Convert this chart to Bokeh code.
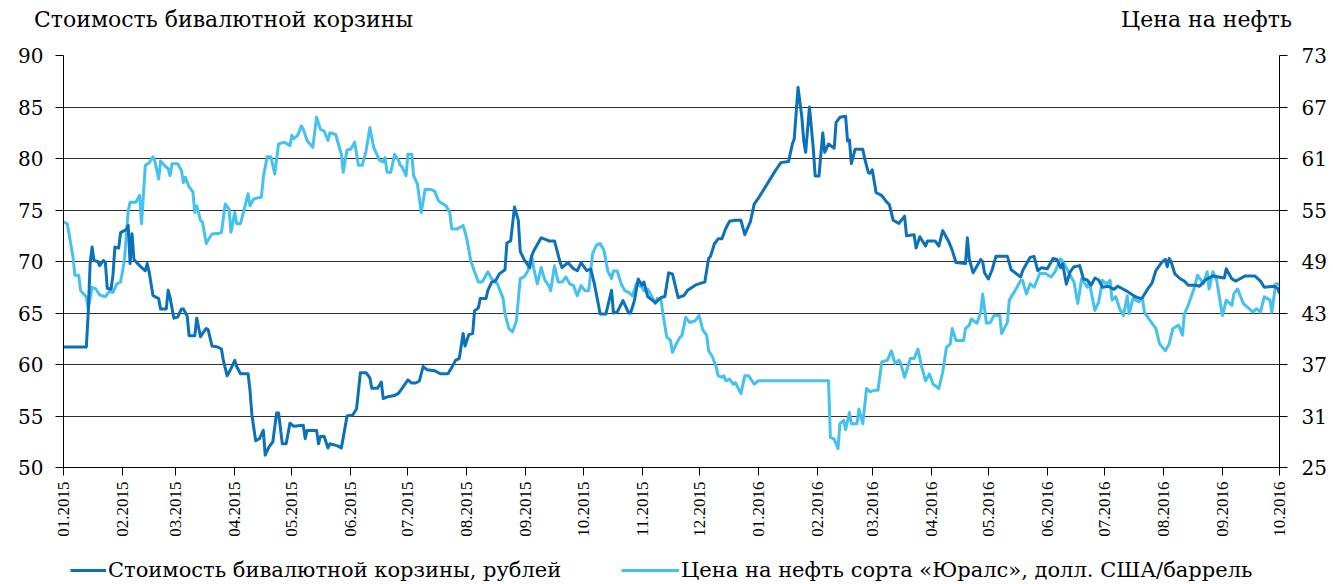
import math
import pandas as pd
from bokeh.plotting import figure
from bokeh.layouts import column
from bokeh.models import (Range1d, LinearAxis, FixedTicker, DatetimeTickFormatter,
                          Legend, LegendItem)
from bokeh.embed import file_html
from bokeh.resources import INLINE

# ---------------- data ----------------
START = "2015-01-01"
END = "2016-10-01"

month_ticks = ["2015-01-01", "2015-02-01", "2015-03-01", "2015-04-01", "2015-05-01",
               "2015-06-01", "2015-07-01", "2015-08-01", "2015-09-01", "2015-10-01",
               "2015-11-01", "2015-12-01", "2016-01-01", "2016-02-01", "2016-03-01",
               "2016-04-01", "2016-05-01", "2016-06-01", "2016-07-01", "2016-08-01",
               "2016-09-01", "2016-10-01"]
left_ticks = [50, 55, 60, 65, 70, 75, 80, 85, 90]
right_ticks = [25, 31, 37, 43, 49, 55, 61, 67, 73]

# days since 2015-01-01
basket_day = [0, 12, 13, 14, 15, 16, 18, 19, 21, 22, 23, 25, 26, 27, 29, 30, 32, 33, 34, 35, 36, 37,
              40, 43, 44, 45, 47, 50, 51, 54, 55, 56, 58, 60, 62, 63, 65, 66, 69, 70, 72, 73, 75, 76,
              78, 81, 83, 84, 86, 88, 90, 91, 93, 97, 98, 99, 101, 103, 105, 106, 108, 110, 112, 113,
              115, 117, 119, 121, 126, 127, 128, 133, 134, 135, 137, 139, 140, 144, 146, 147, 149, 152,
              154, 156, 159, 161, 162, 165, 167, 168, 171, 174, 176, 178, 181, 183, 185, 187, 189, 191,
              195, 198, 202, 204, 206, 208, 210, 211, 213, 215, 216, 218, 219, 222, 223, 225, 227, 229,
              232, 233, 235, 237, 239, 240, 242, 245, 246, 247, 251, 254, 255, 258, 261, 262, 265, 268,
              270, 272, 275, 277, 279, 281, 282, 285, 288, 289, 291, 294, 297, 298, 300, 302, 304, 305,
              307, 311, 314, 316, 318, 320, 323, 326, 328, 332, 335, 337, 339, 340, 342, 344, 346, 348,
              350, 353, 356, 358, 361, 363, 365, 374, 377, 381, 383, 384, 386, 388, 389, 390, 392, 394,
              395, 397, 399, 400, 402, 405, 406, 408, 411, 412, 413, 414, 416, 420, 421, 423, 424, 425,
              427, 430, 432, 434, 436, 439, 442, 443, 447, 448, 450, 453, 454, 458, 460, 462, 465, 467,
              469, 474, 475, 476, 478, 482, 483, 484, 486, 488, 490, 496, 498, 503, 504, 507, 508, 510,
              512, 514, 517, 520, 522, 524, 525, 527, 529, 531, 534, 536, 538, 540, 542, 544, 546, 549,
              552, 554, 556, 559, 563, 566, 567, 570, 572, 574, 577, 579, 580, 581, 582, 584, 587, 589,
              591, 595, 597, 600, 604, 610, 611, 614, 616, 618, 621, 626, 629, 631, 636, 638, 639]
basket_value = [61.7, 61.7, 65.0, 69.8, 71.4, 70.1, 70.0, 69.6, 70.1, 69.9, 67.4, 67.3, 68.7, 71.4, 71.3,
                72.8, 73.0, 73.1, 73.5, 69.8, 72.7, 70.2, 69.6, 69.1, 69.8, 69.0, 66.7, 66.4, 65.4, 65.4,
                67.2, 66.5, 64.5, 64.6, 65.4, 65.4, 64.7, 62.8, 62.8, 64.5, 62.7, 63.0, 63.5, 63.4, 61.8,
                61.7, 61.5, 60.4, 58.9, 59.6, 60.4, 59.8, 59.1, 59.1, 57.5, 55.1, 52.6, 52.8, 53.6, 51.2,
                52.0, 52.5, 55.3, 55.3, 52.3, 52.3, 54.3, 54.0, 54.1, 52.8, 53.6, 53.6, 52.3, 53.0, 53.0,
                51.9, 52.3, 52.1, 51.9, 52.9, 55.0, 55.1, 55.7, 59.2, 59.2, 58.7, 57.7, 57.7, 58.3, 56.7,
                56.9, 57.0, 57.2, 57.7, 58.5, 58.2, 58.2, 58.4, 59.8, 59.5, 59.4, 59.1, 59.1, 59.7, 60.4,
                60.6, 63.0, 61.8, 62.9, 63.0, 65.2, 65.5, 66.4, 66.4, 67.2, 68.0, 68.1, 68.8, 69.2, 71.8,
                72.0, 75.3, 74.0, 71.0, 70.2, 69.4, 70.5, 71.0, 72.3, 72.1, 72.0, 72.0, 69.9, 69.4, 69.9,
                69.3, 69.1, 69.9, 69.1, 69.3, 67.8, 65.9, 64.9, 64.9, 67.2, 65.0, 65.1, 66.2, 65.0, 65.0,
                66.2, 68.3, 67.7, 68.0, 66.6, 66.0, 66.5, 66.6, 68.9, 68.8, 66.5, 66.7, 67.2, 67.7, 67.9,
                68.0, 70.3, 70.5, 71.7, 72.2, 72.2, 73.2, 73.9, 74.0, 74.0, 72.6, 73.9, 75.6, 76.1, 78.8,
                79.6, 79.7, 81.4, 81.9, 86.9, 84.0, 81.7, 80.6, 85.0, 81.0, 78.3, 78.3, 82.5, 80.6, 81.4,
                81.0, 83.5, 84.0, 84.1, 81.7, 81.8, 79.5, 80.9, 80.9, 80.0, 78.6, 78.6, 78.9, 76.7, 76.4,
                75.9, 75.5, 74.0, 73.7, 74.4, 72.5, 72.6, 71.3, 72.4, 71.5, 72.0, 72.0, 71.5, 73.0, 72.0,
                71.1, 69.9, 69.8, 72.3, 70.2, 68.9, 70.2, 70.0, 68.9, 68.3, 69.2, 70.5, 70.5, 69.2, 68.5,
                69.1, 70.1, 70.4, 70.5, 69.1, 69.4, 69.3, 70.3, 70.2, 69.4, 69.8, 67.8, 69.0, 69.5, 69.6,
                68.3, 68.2, 67.7, 68.4, 68.2, 67.5, 67.6, 67.3, 67.6, 67.4, 67.1, 66.6, 66.4, 66.5, 67.4,
                67.9, 69.1, 69.9, 70.2, 69.5, 70.3, 70.0, 68.8, 68.3, 68.1, 67.7, 67.7, 67.6, 68.2, 68.6,
                68.4, 69.3, 68.3, 68.1, 68.3, 68.6, 68.6, 68.1, 67.5, 67.6, 67.4, 66.9]

oil_day = [0, 2, 5, 6, 8, 9, 12, 13, 15, 17, 19, 22, 24, 26, 28, 30, 32, 34, 35, 38, 40, 41, 43, 45,
           47, 48, 50, 51, 53, 55, 56, 57, 60, 62, 63, 64, 66, 68, 69, 70, 72, 73, 75, 76, 78, 82, 83,
           85, 87, 88, 90, 91, 93, 95, 97, 98, 100, 104, 105, 107, 109, 111, 113, 116, 119, 120, 121,
           123, 125, 126, 128, 131, 133, 135, 137, 139, 140, 143, 146, 147, 149, 151, 153, 155, 157,
           159, 161, 163, 166, 168, 169, 170, 172, 174, 176, 177, 178, 180, 181, 183, 184, 186, 188,
           190, 193, 195, 197, 198, 201, 203, 204, 207, 210, 212, 214, 216, 218, 220, 223, 225, 228,
           231, 232, 234, 236, 238, 240, 242, 244, 246, 247, 249, 251, 253, 255, 256, 258, 260, 262,
           264, 266, 268, 270, 272, 274, 276, 278, 280, 282, 284, 286, 288, 289, 291, 293, 295, 297,
           299, 301, 304, 305, 307, 309, 311, 312, 314, 315, 317, 319, 320, 322, 324, 325, 327, 329,
           332, 334, 336, 338, 339, 341, 343, 344, 346, 347, 348, 350, 352, 353, 356, 358, 360, 363,
           365, 402, 403, 405, 407, 408, 410, 411, 413, 414, 417, 418, 420, 422, 424, 426, 428, 430,
           433, 435, 437, 439, 440, 442, 445, 447, 449, 451, 453, 455, 457, 460, 462, 464, 466, 467,
           469, 473, 474, 476, 477, 480, 482, 483, 485, 487, 489, 492, 493, 496, 497, 500, 503, 504,
           506, 508, 510, 513, 516, 519, 521, 524, 526, 529, 531, 533, 535, 538, 539, 542, 544, 546,
           548, 550, 551, 553, 555, 557, 559, 560, 562, 565, 567, 568, 571, 574, 576, 579, 581, 583,
           586, 588, 589, 591, 594, 596, 599, 601, 602, 604, 606, 609, 611, 614, 615, 617, 620, 623,
           625, 627, 629, 631, 634, 635, 637, 638, 639]
oil_value = [53.6, 53.4, 49.5, 47.4, 47.4, 45.6, 44.9, 43.5, 46.0, 45.8, 45.1, 44.9, 45.5, 45.4, 46.4,
             46.6, 49.1, 54.9, 55.9, 55.9, 56.7, 53.4, 60.2, 60.5, 61.2, 60.7, 58.6, 60.7, 60.2, 59.8,
             59.0, 60.4, 60.4, 59.6, 58.2, 58.8, 57.7, 57.1, 54.7, 55.5, 53.8, 53.6, 51.1, 51.5, 52.2,
             52.3, 52.4, 55.7, 55.1, 52.4, 54.7, 53.4, 53.4, 55.1, 56.9, 55.5, 56.3, 56.5, 58.8, 61.2,
             61.2, 59.2, 62.7, 62.9, 62.5, 63.7, 63.3, 63.7, 64.8, 64.4, 63.1, 62.3, 65.8, 64.4, 64.2,
             63.1, 64.0, 63.8, 61.5, 59.4, 62.0, 62.1, 62.9, 60.2, 60.2, 61.9, 64.6, 62.3, 60.8, 60.6,
             61.1, 59.4, 59.4, 61.5, 60.8, 60.2, 60.0, 59.0, 61.5, 61.5, 59.0, 58.0, 54.7, 57.4, 57.4,
             57.2, 56.1, 55.9, 55.5, 54.7, 52.8, 52.8, 53.2, 51.6, 49.1, 47.8, 46.6, 46.6, 47.8, 47.0,
             46.4, 44.7, 42.9, 41.2, 40.8, 42.1, 47.0, 47.2, 47.9, 49.7, 48.3, 46.4, 48.3, 46.8, 46.2,
             45.6, 48.5, 46.6, 46.6, 47.2, 46.4, 46.2, 45.0, 46.2, 45.6, 45.6, 49.9, 50.9, 51.1, 50.3,
             47.9, 47.0, 47.9, 47.9, 46.4, 45.6, 45.4, 45.0, 46.4, 46.0, 45.6, 45.8, 45.0, 44.1, 44.7,
             44.5, 42.9, 40.2, 39.8, 38.4, 39.4, 40.2, 40.4, 42.5, 41.9, 42.1, 42.7, 41.0, 40.4, 38.6,
             37.9, 36.7, 35.7, 35.5, 35.7, 35.1, 35.3, 34.7, 34.9, 33.6, 35.7, 35.7, 34.7, 35.1, 35.1,
             28.5, 28.3, 27.2, 30.1, 30.5, 29.4, 31.4, 30.1, 30.1, 31.8, 30.1, 34.2, 33.8, 34.0, 34.0,
             37.3, 37.5, 38.6, 37.1, 37.5, 37.1, 35.5, 37.7, 37.7, 38.8, 36.7, 35.1, 35.9, 34.7, 34.2,
             36.1, 39.0, 39.4, 41.2, 39.8, 39.8, 41.2, 41.6, 42.3, 41.8, 43.1, 45.2, 41.8, 41.9, 42.7,
             42.7, 40.6, 41.9, 44.5, 45.6, 46.8, 46.8, 45.2, 46.4, 46.0, 47.6, 47.6, 47.2, 47.8, 49.3,
             48.7, 47.4, 46.6, 44.1, 47.0, 46.0, 46.6, 43.3, 44.3, 46.8, 46.4, 46.8, 44.5, 44.9, 43.5,
             42.7, 45.0, 42.9, 44.7, 44.3, 44.7, 43.1, 42.1, 41.2, 39.4, 38.6, 39.4, 41.2, 41.6, 40.4,
             42.9, 43.9, 45.8, 47.4, 46.4, 47.8, 45.8, 47.8, 46.8, 42.7, 44.5, 43.9, 45.2, 45.8, 44.1,
             43.5, 43.1, 43.5, 43.1, 44.9, 44.5, 43.1, 46.4, 46.4, 46.2]

basket_name = "Стоимость бивалютной корзины, рублей"
oil_name = "Цена на нефть сорта «Юралс», долл. США/баррель"
left_title = "Стоимость бивалютной корзины"
right_title = "Цена на нефть"

# ---------------- derived ----------------
start = pd.Timestamp(START)
basket_x = start + pd.to_timedelta(basket_day, unit="D")
oil_x = start + pd.to_timedelta(oil_day, unit="D")
tick_ms = [pd.Timestamp(d).value // 10**6 for d in month_ticks]

DARK = "#0B71BA"
LIGHT = "#45C1EF"
SERIF = "DejaVu Serif"
TIMES = "Liberation Serif"

W = 1333
H_MAIN = 552
H_LEG = 32
p = figure(width=W, height=H_MAIN, x_axis_type="datetime",
           output_backend="svg", toolbar_location=None,
           x_range=Range1d(pd.Timestamp(START), pd.Timestamp(END)),
           y_range=Range1d(50, 90),
           min_border_left=63, min_border_right=54, min_border_top=55,
           min_border_bottom=H_MAIN - 467)
p.extra_y_ranges = {"oil": Range1d(25, 73)}
p.outline_line_color = None
p.background_fill_color = "white"
p.border_fill_color = "white"


def style_axis(ax, font, size, standoff):
    ax.major_label_text_font = font
    ax.major_label_text_font_size = size
    ax.major_label_text_color = "black"
    ax.major_label_standoff = standoff
    ax.major_tick_out = 8
    ax.major_tick_in = 0
    ax.minor_tick_out = 0
    ax.minor_tick_in = 0
    ax.axis_line_color = "black"
    ax.major_tick_line_color = "black"


# x axis
xa = p.xaxis[0]
xa.ticker = FixedTicker(ticks=tick_ms)
fmt = "%m.%Y"
xa.formatter = DatetimeTickFormatter(microseconds=fmt, milliseconds=fmt, seconds=fmt, minsec=fmt,
                                     minutes=fmt, hourmin=fmt, hours=fmt, days=fmt, months=fmt,
                                     years=fmt)
xa.major_label_orientation = math.pi / 2
style_axis(xa, TIMES, "17px", 6)

# left y axis
ya = p.yaxis[0]
ya.ticker = FixedTicker(ticks=left_ticks)
style_axis(ya, SERIF, "20px", 12)

# right y axis
ra = LinearAxis(y_range_name="oil", ticker=FixedTicker(ticks=right_ticks))
style_axis(ra, SERIF, "20px", 14)
p.add_layout(ra, "right")

# titles above the plot, drawn as labels of a bare axis on a pixel-like range
frame_w = W - 63 - 54
p.extra_x_ranges = {"titles": Range1d(0, frame_w)}
title_pos = [160, 1143]
ta = LinearAxis(x_range_name="titles", ticker=FixedTicker(ticks=title_pos),
                major_label_overrides={title_pos[0]: left_title, title_pos[1]: right_title})
ta.axis_line_color = None
ta.major_tick_line_color = None
ta.minor_tick_line_color = None
ta.major_tick_out = 0
ta.major_tick_in = 0
ta.major_label_standoff = 24
ta.major_label_text_font = SERIF
ta.major_label_text_font_size = "22px"
ta.major_label_text_color = "black"
p.add_layout(ta, "above")

p.xgrid.visible = False
p.ygrid.grid_line_color = "#303030"
p.ygrid.grid_line_width = 1

r_oil = p.line(oil_x, oil_value, y_range_name="oil", line_color=LIGHT, line_width=3,
               line_join="round")
r_basket = p.line(basket_x, basket_value, line_color=DARK, line_width=3, line_join="round")

# legend strip under the chart (series drawn outside its ranges, only the legend shows)
lf = figure(width=W, height=H_LEG, output_backend="svg", toolbar_location=None,
            x_range=Range1d(0, 1), y_range=Range1d(0, 1),
            x_axis_location=None, y_axis_location=None,
            min_border_left=0, min_border_right=0, min_border_top=0, min_border_bottom=0)
lf.outline_line_color = None
lf.xgrid.visible = False
lf.ygrid.visible = False
lf.border_fill_color = "white"
k_basket = lf.line(basket_x, basket_value, line_color=DARK, line_width=3)
k_oil = lf.line(oil_x, oil_value, line_color=LIGHT, line_width=3)
lg = Legend(items=[LegendItem(label=basket_name, renderers=[k_basket])],
            location=(7, 2), orientation="horizontal", glyph_width=36,
            glyph_height=22, label_height=22, label_standoff=2, padding=0, margin=0,
            label_text_font=SERIF, label_text_font_size="21px", label_text_color="black",
            background_fill_alpha=0, border_line_alpha=0)
lg2 = Legend(items=[LegendItem(label=oil_name, renderers=[k_oil])],
             location=(558, 2), orientation="horizontal", glyph_width=58,
             glyph_height=22, label_height=22, label_standoff=2, padding=0, margin=0,
             label_text_font=SERIF, label_text_font_size="21px", label_text_color="black",
             background_fill_alpha=0, border_line_alpha=0)
lf.add_layout(lg, "center")
lf.add_layout(lg2, "center")

layout = column(p, lf, spacing=0)
open("out.html", "w").write(file_html(layout, INLINE))
